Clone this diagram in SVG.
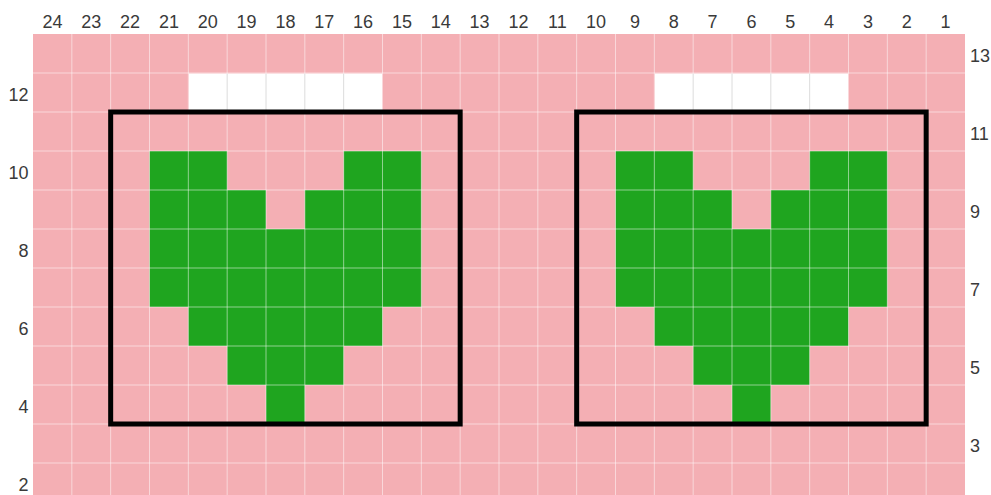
<svg xmlns="http://www.w3.org/2000/svg" xmlns:xlink="http://www.w3.org/1999/xlink" width="991" height="495" viewBox="0 0 991 495">
<style>
.lbl{font-family:"Liberation Sans",Arial,sans-serif;font-size:18px;fill:#3a3a3a}
.top{text-anchor:middle}
.left{text-anchor:end}
.right{text-anchor:start}
.g{fill:#1fa51f}
.w{fill:#ffffff}
.grid line{stroke:#ffffff;stroke-opacity:0.5;stroke-width:1}
.wl line{stroke:#dcdcdc;stroke-width:1}
.box{fill:none;stroke:#000000;stroke-width:5}
</style>
<defs>
<g id="heart">
<rect class="g" x="149.5" y="151" width="77.67" height="39"/>
<rect class="g" x="343.67" y="151" width="77.66" height="39"/>
<rect class="g" x="149.5" y="190" width="116.5" height="39"/>
<rect class="g" x="304.83" y="190" width="116.5" height="39"/>
<rect class="g" x="149.5" y="229" width="271.83" height="78"/>
<rect class="g" x="188.33" y="307" width="194.17" height="39"/>
<rect class="g" x="227.17" y="346" width="116.5" height="39"/>
<rect class="g" x="266" y="385" width="38.83" height="39"/>
</g>
</defs>
<rect width="991" height="495" fill="#ffffff"/>
<rect x="33" y="34" width="932" height="461" fill="#f4afb4"/>
<g id="heart-left"><use xlink:href="#heart"/></g>
<g id="heart-right"><use xlink:href="#heart" transform="translate(466,0)"/></g>
<g class="grid">
<line x1="71.83" y1="34" x2="71.83" y2="495"/>
<line x1="110.67" y1="34" x2="110.67" y2="495"/>
<line x1="149.5" y1="34" x2="149.5" y2="495"/>
<line x1="188.33" y1="34" x2="188.33" y2="495"/>
<line x1="227.17" y1="34" x2="227.17" y2="495"/>
<line x1="266" y1="34" x2="266" y2="495"/>
<line x1="304.83" y1="34" x2="304.83" y2="495"/>
<line x1="343.67" y1="34" x2="343.67" y2="495"/>
<line x1="382.5" y1="34" x2="382.5" y2="495"/>
<line x1="421.33" y1="34" x2="421.33" y2="495"/>
<line x1="460.17" y1="34" x2="460.17" y2="495"/>
<line x1="499" y1="34" x2="499" y2="495"/>
<line x1="537.83" y1="34" x2="537.83" y2="495"/>
<line x1="576.67" y1="34" x2="576.67" y2="495"/>
<line x1="615.5" y1="34" x2="615.5" y2="495"/>
<line x1="654.33" y1="34" x2="654.33" y2="495"/>
<line x1="693.17" y1="34" x2="693.17" y2="495"/>
<line x1="732" y1="34" x2="732" y2="495"/>
<line x1="770.83" y1="34" x2="770.83" y2="495"/>
<line x1="809.67" y1="34" x2="809.67" y2="495"/>
<line x1="848.5" y1="34" x2="848.5" y2="495"/>
<line x1="887.33" y1="34" x2="887.33" y2="495"/>
<line x1="926.17" y1="34" x2="926.17" y2="495"/>
<line x1="33" y1="73" x2="965" y2="73"/>
<line x1="33" y1="112" x2="965" y2="112"/>
<line x1="33" y1="151" x2="965" y2="151"/>
<line x1="33" y1="190" x2="965" y2="190"/>
<line x1="33" y1="229" x2="965" y2="229"/>
<line x1="33" y1="268" x2="965" y2="268"/>
<line x1="33" y1="307" x2="965" y2="307"/>
<line x1="33" y1="346" x2="965" y2="346"/>
<line x1="33" y1="385" x2="965" y2="385"/>
<line x1="33" y1="424" x2="965" y2="424"/>
<line x1="33" y1="463" x2="965" y2="463"/>
</g>
<g id="white-row12">
<rect class="w" x="188.83" y="73.5" width="193.17" height="38"/>
<rect class="w" x="654.83" y="73.5" width="193.17" height="38"/>
<g class="wl">
<line x1="227.17" y1="73.5" x2="227.17" y2="111.5"/>
<line x1="266" y1="73.5" x2="266" y2="111.5"/>
<line x1="304.83" y1="73.5" x2="304.83" y2="111.5"/>
<line x1="343.67" y1="73.5" x2="343.67" y2="111.5"/>
<line x1="693.17" y1="73.5" x2="693.17" y2="111.5"/>
<line x1="732" y1="73.5" x2="732" y2="111.5"/>
<line x1="770.83" y1="73.5" x2="770.83" y2="111.5"/>
<line x1="809.67" y1="73.5" x2="809.67" y2="111.5"/>
</g>
</g>
<g id="connectors">
<rect id="box-left" class="box" x="110.67" y="112" width="349.5" height="312"/>
<rect id="box-right" class="box" x="576.67" y="112" width="349.5" height="312"/>
</g>
<g id="col-labels" class="lbl top">
<text x="52.4" y="28">24</text>
<text x="91.2" y="28">23</text>
<text x="130.1" y="28">22</text>
<text x="168.9" y="28">21</text>
<text x="207.8" y="28">20</text>
<text x="246.6" y="28">19</text>
<text x="285.4" y="28">18</text>
<text x="324.3" y="28">17</text>
<text x="363.1" y="28">16</text>
<text x="401.9" y="28">15</text>
<text x="440.8" y="28">14</text>
<text x="479.6" y="28">13</text>
<text x="518.4" y="28">12</text>
<text x="557.3" y="28">11</text>
<text x="596.1" y="28">10</text>
<text x="634.9" y="28">9</text>
<text x="673.8" y="28">8</text>
<text x="712.6" y="28">7</text>
<text x="751.4" y="28">6</text>
<text x="790.3" y="28">5</text>
<text x="829.1" y="28">4</text>
<text x="867.9" y="28">3</text>
<text x="906.8" y="28">2</text>
<text x="945.6" y="28">1</text>
</g>
<g id="row-labels-left" class="lbl left">
<text x="28.5" y="101">12</text>
<text x="28.5" y="179">10</text>
<text x="28.5" y="257">8</text>
<text x="28.5" y="335">6</text>
<text x="28.5" y="413">4</text>
<text x="28.5" y="491">2</text>
</g>
<g id="row-labels-right" class="lbl right">
<text x="970" y="62">13</text>
<text x="970" y="140">11</text>
<text x="970" y="218">9</text>
<text x="970" y="296">7</text>
<text x="970" y="374">5</text>
<text x="970" y="452">3</text>
</g>
</svg>
